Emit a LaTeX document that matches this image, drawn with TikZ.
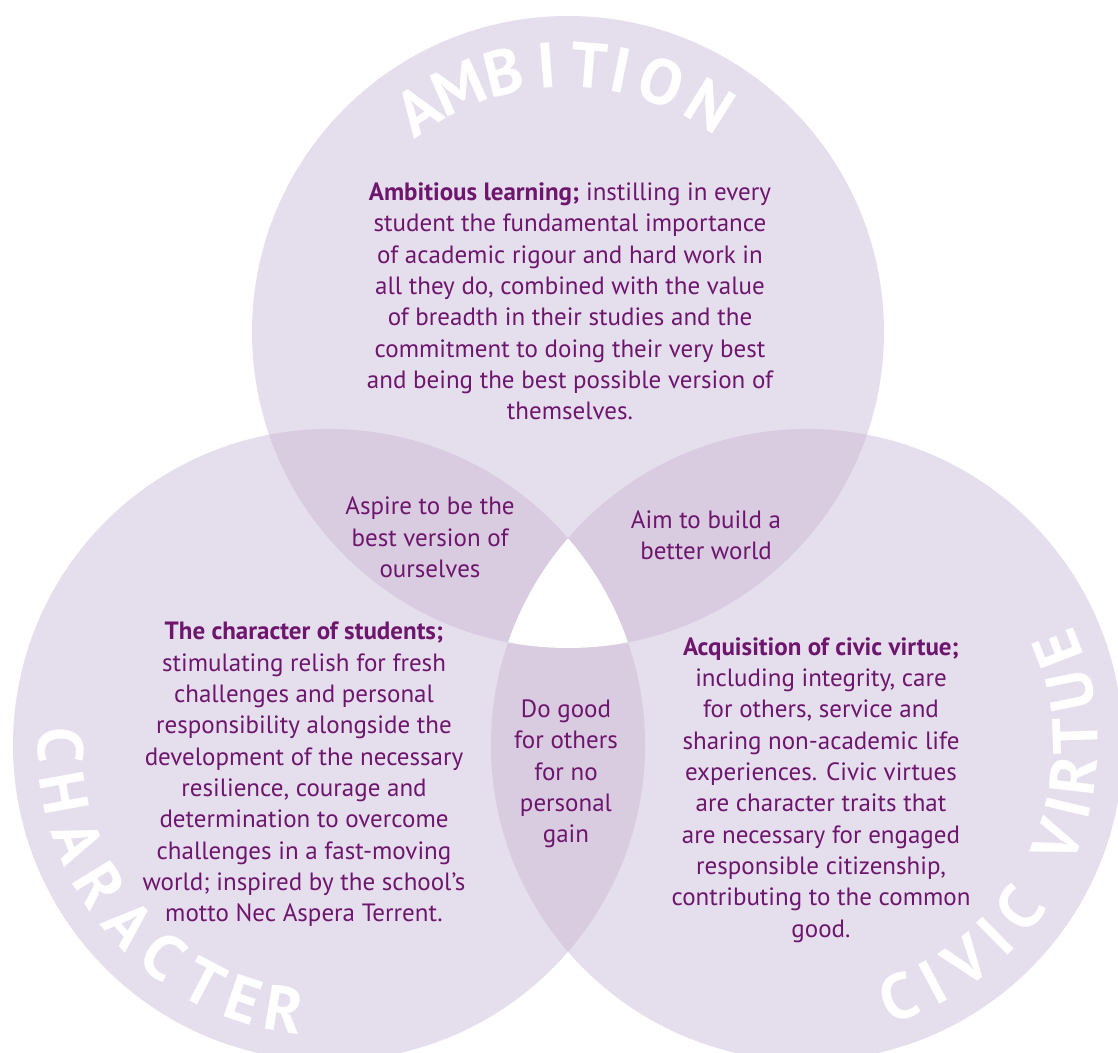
\documentclass[tikz,border=0pt]{standalone}
\usepackage{fontspec}
\setmainfont{PT Sans}
\usepackage{tikz}
\definecolor{circlefill}{RGB}{229,222,236}
\definecolor{lensfill}{RGB}{217,203,224}
\definecolor{textpurple}{RGB}{110,22,110}

\begin{document}
\begin{tikzpicture}[x=1pt,y=1pt,
  blurb/.style={align=center,text=textpurple,inner sep=0pt,font=\fontsize{25}{31.3}\selectfont},
  title/.style={text=white,inner sep=0pt,anchor=base,font=\bfseries\fontsize{64}{64}\selectfont}]
\useasboundingbox (0,0) rectangle (1118,1052);
\clip (0,0) rectangle (1118,1052);
\def\rad{316}
\coordinate (top) at (568,720);
\coordinate (left) at (329,307);
\coordinate (right) at (807,307);
% circles and overlaps
\fill[circlefill] (top) circle (\rad) (left) circle (\rad) (right) circle (\rad);
\begin{scope}
\clip (top) circle (\rad);
\fill[lensfill] (left) circle (\rad) (right) circle (\rad);
\end{scope}
\begin{scope}
\clip (left) circle (\rad);
\fill[lensfill] (right) circle (\rad);
\end{scope}
\begin{scope}
\clip (top) circle (\rad);
\clip (left) circle (\rad);
\fill[white] (right) circle (\rad);
\end{scope}
% curved titles
\foreach \ch/\ang [count=\i] in {A/124,M/114,B/104,I/94.5,T/85.5,I/78.5,O/69.5,N/58}
  \node[title,rotate=\ang-90] (ambition-\i) at ([shift={(\ang:245)}]top) {\ch};
\foreach \ch/\ang [count=\i] in {C/180,H/190.3,A/201,R/211.5,A/221.8,C/231.9,T/242.3,E/251.5,R/260.5}
  \node[title,rotate=\ang+90] (character-\i) at ([shift={(\ang:291)}]left) {\ch};
\foreach \ch/\ang [count=\i] in {C/290,I/298,V/306.5,I/314.5,C/322.5,V/339,I/346.5,R/353.5,T/2,U/11.5,E/21}
  \node[title,rotate=\ang+90] (civic-\i) at ([shift={(\ang:291)}]right) {\ch};
% texts
\node[blurb] (ambition-text) at (570,750.5) {\textbf{Ambitious learning;} instilling in every\\
  student the fundamental importance\\ of academic rigour and hard work in\\
  all they do, combined with the value\\ of breadth in their studies and the\\
  commitment to doing their very best\\ and being the best possible version of\\ themselves.};
\node[blurb] (aspire) at (430,514.5) {Aspire to be the\\ best version of\\ ourselves};
\node[blurb] (better-world) at (706,517) {Aim to build a\\ better world};
\node[blurb] (do-good) at (566,278) {Do good\\ for others\\ for no\\ personal\\ gain};
\node[blurb] (character-text) at (304,277.5) {\textbf{The character of students;}\\
  stimulating relish for fresh\\ challenges and personal\\ responsibility alongside the\\
  development of the necessary\\ resilience, courage and\\ determination to overcome\\
  challenges in a fast-moving\\ world; inspired by the school’s\\ motto Nec Aspera Terrent.};
\node[blurb] (civic-text) at (821,262) {\textbf{Acquisition of civic virtue;}\\
  including integrity, care\\ for others, service and\\ sharing non-academic life\\
  experiences. Civic virtues\\ are character traits that\\ are necessary for engaged\\
  responsible citizenship,\\ contributing to the common\\ good.};
\end{tikzpicture}
\end{document}
